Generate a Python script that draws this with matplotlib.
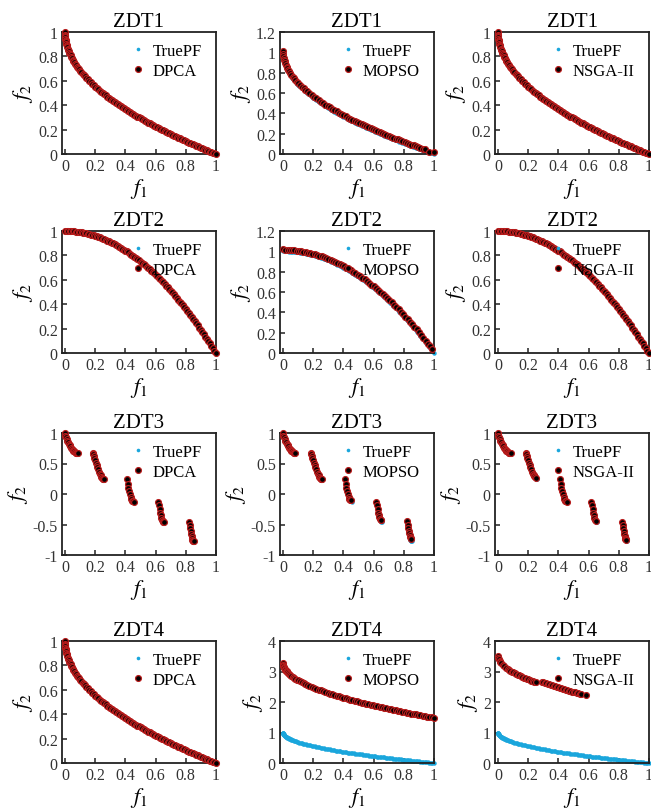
import matplotlib
matplotlib.use("Agg")
import matplotlib.pyplot as plt
from matplotlib.ticker import FuncFormatter

plt.rcParams["font.family"] = ["Liberation Serif", "DejaVu Serif"]
plt.rcParams["mathtext.fontset"] = "stix"
plt.rcParams["axes.unicode_minus"] = False

# ---- true Pareto fronts ----
ZDT1_F1 = [0, 0.0005, 0.001, 0.002, 0.003, 0.004, 0.005, 0.007, 0.009, 0.011, 0.013, 0.016,
           0.019, 0.022, 0.025, 0.029, 0.033, 0.037, 0.041, 0.046, 0.051, 0.056, 0.062,
           0.068, 0.074, 0.08, 0.087, 0.094, 0.101, 0.108, 0.116, 0.124, 0.132, 0.14,
           0.15, 0.16, 0.17, 0.18, 0.19, 0.2, 0.21, 0.22, 0.23, 0.24, 0.25, 0.26, 0.27,
           0.28, 0.29, 0.3, 0.31, 0.32, 0.33, 0.34, 0.35, 0.36, 0.37, 0.38, 0.39, 0.4,
           0.41, 0.42, 0.43, 0.44, 0.45, 0.46, 0.47, 0.48, 0.49, 0.5, 0.51, 0.52, 0.53,
           0.54, 0.55, 0.56, 0.57, 0.58, 0.59, 0.6, 0.61, 0.62, 0.63, 0.64, 0.65, 0.66,
           0.67, 0.68, 0.69, 0.7, 0.71, 0.72, 0.73, 0.74, 0.75, 0.76, 0.77, 0.78, 0.79,
           0.8, 0.81, 0.82, 0.83, 0.84, 0.85, 0.86, 0.87, 0.88, 0.89, 0.9, 0.91, 0.92,
           0.93, 0.94, 0.95, 0.96, 0.97, 0.98, 0.99, 1.0]
ZDT1_F2 = [1.0, 0.978, 0.968, 0.955, 0.945, 0.937, 0.929, 0.916, 0.905, 0.895, 0.886, 0.874,
           0.862, 0.852, 0.842, 0.83, 0.818, 0.808, 0.798, 0.786, 0.774, 0.763, 0.751,
           0.739, 0.728, 0.717, 0.705, 0.693, 0.682, 0.671, 0.659, 0.648, 0.637, 0.626,
           0.613, 0.6, 0.588, 0.576, 0.564, 0.553, 0.542, 0.531, 0.52, 0.51, 0.5, 0.49,
           0.48, 0.471, 0.461, 0.452, 0.443, 0.434, 0.426, 0.417, 0.408, 0.4, 0.392,
           0.384, 0.376, 0.368, 0.36, 0.352, 0.344, 0.337, 0.329, 0.322, 0.314, 0.307,
           0.3, 0.293, 0.286, 0.279, 0.272, 0.265, 0.258, 0.252, 0.245, 0.238, 0.232,
           0.225, 0.219, 0.213, 0.206, 0.2, 0.194, 0.188, 0.181, 0.175, 0.169, 0.163,
           0.157, 0.151, 0.146, 0.14, 0.134, 0.128, 0.122, 0.117, 0.111, 0.106, 0.1,
           0.094, 0.089, 0.083, 0.078, 0.073, 0.067, 0.062, 0.057, 0.051, 0.046, 0.041,
           0.036, 0.03, 0.025, 0.02, 0.015, 0.01, 0.005, 0.0]

ZDT2_F1 = [0, 0.01, 0.02, 0.03, 0.04, 0.05, 0.06, 0.07, 0.08, 0.09, 0.1, 0.11, 0.12, 0.13,
           0.14, 0.15, 0.16, 0.17, 0.18, 0.19, 0.2, 0.21, 0.22, 0.23, 0.24, 0.25, 0.26,
           0.27, 0.28, 0.29, 0.3, 0.31, 0.32, 0.33, 0.34, 0.35, 0.36, 0.37, 0.38, 0.39,
           0.4, 0.41, 0.42, 0.43, 0.44, 0.45, 0.46, 0.47, 0.48, 0.49, 0.5, 0.51, 0.52,
           0.53, 0.54, 0.55, 0.56, 0.57, 0.58, 0.59, 0.6, 0.61, 0.62, 0.63, 0.64, 0.65,
           0.66, 0.67, 0.68, 0.69, 0.7, 0.71, 0.72, 0.73, 0.74, 0.75, 0.76, 0.77, 0.78,
           0.79, 0.8, 0.81, 0.82, 0.83, 0.84, 0.85, 0.86, 0.87, 0.88, 0.89, 0.9, 0.91,
           0.92, 0.93, 0.94, 0.95, 0.96, 0.97, 0.98, 0.99, 1.0]
ZDT2_F2 = [1.0, 1.0, 1.0, 0.999, 0.998, 0.998, 0.996, 0.995, 0.994, 0.992, 0.99, 0.988,
           0.986, 0.983, 0.98, 0.978, 0.974, 0.971, 0.968, 0.964, 0.96, 0.956, 0.952,
           0.947, 0.942, 0.938, 0.932, 0.927, 0.922, 0.916, 0.91, 0.904, 0.898, 0.891,
           0.884, 0.878, 0.87, 0.863, 0.856, 0.848, 0.84, 0.832, 0.824, 0.815, 0.806,
           0.798, 0.788, 0.779, 0.77, 0.76, 0.75, 0.74, 0.73, 0.719, 0.708, 0.698, 0.686,
           0.675, 0.664, 0.652, 0.64, 0.628, 0.616, 0.603, 0.59, 0.578, 0.564, 0.551,
           0.538, 0.524, 0.51, 0.496, 0.482, 0.467, 0.452, 0.438, 0.422, 0.407, 0.392,
           0.376, 0.36, 0.344, 0.328, 0.311, 0.294, 0.278, 0.26, 0.243, 0.226, 0.208,
           0.19, 0.172, 0.154, 0.135, 0.116, 0.098, 0.078, 0.059, 0.04, 0.02, 0.0]

ZDT3_F1 = [0, 0.002, 0.005, 0.01, 0.015, 0.02, 0.025, 0.03, 0.035, 0.04, 0.045, 0.05,
           0.055, 0.06, 0.065, 0.07, 0.075, 0.079, 0.083,
           0.1822, 0.186, 0.19, 0.195, 0.2, 0.205, 0.21, 0.215, 0.22, 0.225, 0.23, 0.235,
           0.24, 0.245, 0.25, 0.254, 0.2578,
           0.4093, 0.415, 0.42, 0.425, 0.43, 0.435, 0.44, 0.445, 0.45, 0.4539,
           0.6184, 0.622, 0.626, 0.63, 0.634, 0.638, 0.642, 0.646, 0.65, 0.6525,
           0.8233, 0.826, 0.829, 0.832, 0.835, 0.838, 0.841, 0.844, 0.847, 0.85, 0.8518]
ZDT3_F2 = [1.0, 0.955, 0.928, 0.897, 0.871, 0.847, 0.824, 0.803, 0.782, 0.762, 0.743, 0.726,
           0.711, 0.698, 0.687, 0.679, 0.673, 0.67, 0.67,
           0.67, 0.648, 0.623, 0.589, 0.553, 0.515, 0.477, 0.439, 0.402, 0.367, 0.334,
           0.306, 0.282, 0.263, 0.25, 0.244, 0.242,
           0.242, 0.167, 0.105, 0.048, -0.004, -0.047, -0.082, -0.107, -0.121, -0.124,
           -0.124, -0.185, -0.247, -0.304, -0.351, -0.392, -0.423, -0.445, -0.456, -0.458,
           -0.457, -0.511, -0.565, -0.614, -0.658, -0.695, -0.725, -0.748, -0.764, -0.772,
           -0.773]

# ---- MOPSO results ----
MOPSO_ZDT1_F1 = [0, 0.001, 0.003, 0.005, 0.008, 0.011, 0.015, 0.019, 0.024, 0.029, 0.035,
                 0.041, 0.048, 0.056, 0.064, 0.073, 0.082, 0.092, 0.102, 0.113, 0.124,
                 0.136, 0.148, 0.16, 0.175, 0.19, 0.205, 0.22, 0.235, 0.25, 0.265, 0.28,
                 0.295, 0.31, 0.325, 0.34, 0.355, 0.37, 0.385, 0.4, 0.415, 0.43, 0.445,
                 0.46, 0.475, 0.49, 0.505, 0.52, 0.535, 0.55, 0.565, 0.58, 0.595, 0.61,
                 0.625, 0.64, 0.655, 0.67, 0.685, 0.7, 0.715, 0.73, 0.745, 0.76, 0.775,
                 0.79, 0.805, 0.82, 0.835, 0.85, 0.865, 0.88, 0.895, 0.91, 0.925, 0.94,
                 0.97, 1.0]
MOPSO_ZDT1_F2 = [1.015, 0.983, 0.96, 0.944, 0.926, 0.91, 0.893, 0.877, 0.86, 0.845, 0.828,
                 0.813, 0.796, 0.778, 0.762, 0.745, 0.729, 0.712, 0.696, 0.679, 0.663,
                 0.646, 0.63, 0.615, 0.597, 0.579, 0.562, 0.546, 0.53, 0.515, 0.5, 0.486,
                 0.472, 0.458, 0.445, 0.432, 0.419, 0.407, 0.395, 0.383, 0.371, 0.359,
                 0.348, 0.337, 0.326, 0.315, 0.304, 0.294, 0.284, 0.273, 0.263, 0.253,
                 0.244, 0.234, 0.224, 0.215, 0.206, 0.196, 0.187, 0.178, 0.169, 0.161,
                 0.152, 0.143, 0.135, 0.126, 0.118, 0.109, 0.101, 0.093, 0.085, 0.077,
                 0.069, 0.061, 0.053, 0.045, 0.02, 0.015]

MOPSO_ZDT2_F1 = [0, 0.015, 0.03, 0.045, 0.06, 0.075, 0.09, 0.105, 0.12, 0.135, 0.15, 0.165,
                 0.18, 0.195, 0.21, 0.225, 0.24, 0.255, 0.27, 0.285, 0.3, 0.315, 0.33,
                 0.345, 0.36, 0.375, 0.39, 0.405, 0.42, 0.435, 0.45, 0.465, 0.48, 0.495,
                 0.51, 0.525, 0.54, 0.555, 0.57, 0.585, 0.6, 0.615, 0.63, 0.645, 0.66,
                 0.675, 0.69, 0.705, 0.72, 0.735, 0.75, 0.765, 0.78, 0.795, 0.81, 0.825,
                 0.84, 0.855, 0.87, 0.885, 0.9, 0.915, 0.93, 0.945, 0.96, 0.975, 0.99]
MOPSO_ZDT2_F2 = [1.02, 1.015, 1.014, 1.013, 1.011, 1.009, 1.007, 1.004, 1.001, 0.997, 0.993,
                 0.988, 0.983, 0.977, 0.971, 0.964, 0.957, 0.95, 0.942, 0.934, 0.925, 0.916,
                 0.906, 0.896, 0.885, 0.874, 0.863, 0.851, 0.839, 0.826, 0.813, 0.799,
                 0.785, 0.77, 0.755, 0.739, 0.723, 0.707, 0.69, 0.673, 0.655, 0.637, 0.618,
                 0.599, 0.579, 0.559, 0.539, 0.518, 0.497, 0.475, 0.453, 0.43, 0.407, 0.383,
                 0.359, 0.334, 0.309, 0.284, 0.258, 0.232, 0.205, 0.178, 0.15, 0.122, 0.093,
                 0.064, 0.035]

MOPSO_ZDT3_F1 = [0, 0.002, 0.005, 0.01, 0.015, 0.02, 0.025, 0.03, 0.035, 0.04, 0.045, 0.05,
                 0.055, 0.06, 0.065, 0.07, 0.075, 0.08,
                 0.1822, 0.186, 0.19, 0.195, 0.2, 0.205, 0.21, 0.215, 0.22, 0.225, 0.23,
                 0.235, 0.24, 0.245, 0.25, 0.254, 0.2578,
                 0.4093, 0.415, 0.42, 0.425, 0.43, 0.435, 0.44, 0.445, 0.45,
                 0.6184, 0.622, 0.626, 0.63, 0.634, 0.638, 0.642, 0.646, 0.65,
                 0.8233, 0.826, 0.829, 0.832, 0.835, 0.838, 0.841, 0.846, 0.85]
MOPSO_ZDT3_F2 = [1.0, 0.955, 0.928, 0.897, 0.871, 0.847, 0.824, 0.803, 0.782, 0.762, 0.743,
                 0.726, 0.711, 0.698, 0.687, 0.679, 0.673, 0.672,
                 0.67, 0.648, 0.623, 0.589, 0.553, 0.515, 0.477, 0.439, 0.402, 0.367, 0.334,
                 0.306, 0.282, 0.263, 0.25, 0.244, 0.242,
                 0.242, 0.167, 0.105, 0.048, -0.004, -0.047, -0.075, -0.095, -0.1,
                 -0.124, -0.185, -0.247, -0.304, -0.351, -0.385, -0.41, -0.42, -0.425,
                 -0.44, -0.5, -0.55, -0.6, -0.64, -0.67, -0.7, -0.72, -0.73]

MOPSO_ZDT4_F1 = [0, 0.001, 0.003, 0.005, 0.008, 0.011, 0.015, 0.019, 0.024, 0.029, 0.035,
                 0.041, 0.048, 0.056, 0.064, 0.073, 0.082, 0.092, 0.102, 0.113, 0.124,
                 0.136, 0.148, 0.16, 0.175, 0.19, 0.205, 0.22, 0.235, 0.25, 0.265, 0.28,
                 0.295, 0.31, 0.325, 0.34, 0.355, 0.37, 0.385, 0.4, 0.415, 0.43, 0.445,
                 0.46, 0.475, 0.49, 0.505, 0.52, 0.535, 0.55, 0.565, 0.58, 0.595, 0.61,
                 0.625, 0.64, 0.655, 0.67, 0.685, 0.7, 0.715, 0.73, 0.745, 0.76, 0.775,
                 0.79, 0.805, 0.82, 0.835, 0.85, 0.865, 0.88, 0.895, 0.91, 0.925, 0.94,
                 0.955, 0.97, 0.985, 1.0]
MOPSO_ZDT4_F2 = [3.28, 3.222, 3.181, 3.152, 3.12, 3.091, 3.06, 3.032, 3.001, 2.974, 2.943,
                 2.916, 2.886, 2.853, 2.825, 2.794, 2.765, 2.735, 2.706, 2.675, 2.646,
                 2.616, 2.587, 2.56, 2.528, 2.495, 2.465, 2.436, 2.407, 2.38, 2.353, 2.328,
                 2.303, 2.277, 2.254, 2.231, 2.207, 2.186, 2.164, 2.142, 2.121, 2.099,
                 2.079, 2.06, 2.04, 2.02, 2.0, 1.982, 1.964, 1.944, 1.926, 1.908, 1.892,
                 1.874, 1.856, 1.84, 1.824, 1.806, 1.79, 1.773, 1.757, 1.743, 1.727, 1.71,
                 1.696, 1.68, 1.665, 1.649, 1.635, 1.62, 1.606, 1.592, 1.577, 1.563, 1.548,
                 1.534, 1.521, 1.507, 1.494, 1.48]

# ---- NSGA-II results ----
NSGA_ZDT3_F1 = [0, 0.002, 0.005, 0.01, 0.015, 0.02, 0.025, 0.03, 0.035, 0.04, 0.045, 0.05,
                0.055, 0.06, 0.065, 0.07, 0.075, 0.079, 0.083,
                0.1822, 0.186, 0.19, 0.195, 0.2, 0.205, 0.21, 0.215, 0.22, 0.225, 0.23,
                0.235, 0.24, 0.245, 0.25,
                0.4093, 0.415, 0.42, 0.425, 0.43, 0.435, 0.44, 0.445, 0.45, 0.4539,
                0.6184, 0.622, 0.626, 0.63, 0.634, 0.638, 0.642, 0.646,
                0.8233, 0.826, 0.829, 0.832, 0.835, 0.838, 0.841, 0.844, 0.847, 0.85]
NSGA_ZDT3_F2 = [1.0, 0.955, 0.928, 0.897, 0.871, 0.847, 0.824, 0.803, 0.782, 0.762, 0.743,
                0.726, 0.711, 0.698, 0.687, 0.679, 0.673, 0.67, 0.67,
                0.67, 0.648, 0.623, 0.589, 0.553, 0.515, 0.477, 0.439, 0.402, 0.367, 0.334,
                0.306, 0.29, 0.28, 0.27,
                0.242, 0.167, 0.105, 0.048, -0.004, -0.047, -0.082, -0.107, -0.121, -0.124,
                -0.124, -0.185, -0.247, -0.304, -0.351, -0.392, -0.423, -0.435,
                -0.457, -0.511, -0.565, -0.614, -0.658, -0.695, -0.72, -0.735, -0.745, -0.75]

NSGA_ZDT4_F1 = [0, 0.002, 0.005, 0.01, 0.015, 0.02, 0.03, 0.04, 0.05, 0.065, 0.07, 0.08,
                0.09, 0.1, 0.11, 0.12, 0.13, 0.14, 0.15, 0.16, 0.17, 0.18, 0.19, 0.2, 0.21,
                0.22, 0.23, 0.24, 0.25,
                0.29, 0.3, 0.31, 0.32, 0.33, 0.34, 0.35, 0.36, 0.37, 0.38, 0.39, 0.4, 0.41,
                0.42, 0.43, 0.44, 0.45, 0.46, 0.47, 0.48, 0.49, 0.5, 0.51, 0.52, 0.53, 0.54,
                0.55, 0.58]
NSGA_ZDT4_F2 = [3.52, 3.44, 3.4, 3.35, 3.31, 3.27, 3.22, 3.17, 3.13, 3.08, 3.06, 3.03,
                3.0, 2.97, 2.94, 2.92, 2.89, 2.87, 2.85, 2.82, 2.8, 2.78, 2.76, 2.74, 2.72,
                2.7, 2.69, 2.67, 2.65,
                2.67, 2.65, 2.63, 2.62, 2.6, 2.58, 2.56, 2.55, 2.53, 2.51, 2.5, 2.48, 2.46,
                2.45, 2.43, 2.42, 2.4, 2.39, 2.37, 2.36, 2.34, 2.33, 2.32, 2.3, 2.29, 2.27,
                2.26, 2.22]

ALGORITHMS = ["DPCA", "MOPSO", "NSGA-II"]
PROBLEMS = ["ZDT1", "ZDT2", "ZDT3", "ZDT4"]

# ZDT4 shares its true front with ZDT1
TRUE_PF = {
    "ZDT1": (ZDT1_F1, ZDT1_F2),
    "ZDT2": (ZDT2_F1, ZDT2_F2),
    "ZDT3": (ZDT3_F1, ZDT3_F2),
    "ZDT4": (ZDT1_F1, ZDT1_F2),
}

RESULTS = {
    ("ZDT1", "DPCA"): (ZDT1_F1, ZDT1_F2),
    ("ZDT1", "MOPSO"): (MOPSO_ZDT1_F1, MOPSO_ZDT1_F2),
    ("ZDT1", "NSGA-II"): (ZDT1_F1, ZDT1_F2),
    ("ZDT2", "DPCA"): (ZDT2_F1, ZDT2_F2),
    ("ZDT2", "MOPSO"): (MOPSO_ZDT2_F1, MOPSO_ZDT2_F2),
    ("ZDT2", "NSGA-II"): (ZDT2_F1, ZDT2_F2),
    ("ZDT3", "DPCA"): (ZDT3_F1, ZDT3_F2),
    ("ZDT3", "MOPSO"): (MOPSO_ZDT3_F1, MOPSO_ZDT3_F2),
    ("ZDT3", "NSGA-II"): (NSGA_ZDT3_F1, NSGA_ZDT3_F2),
    ("ZDT4", "DPCA"): (ZDT1_F1, ZDT1_F2),
    ("ZDT4", "MOPSO"): (MOPSO_ZDT4_F1, MOPSO_ZDT4_F2),
    ("ZDT4", "NSGA-II"): (NSGA_ZDT4_F1, NSGA_ZDT4_F2),
}

# (ymin, ymax, tick step) per panel
Y_AXES = {
    ("ZDT1", "DPCA"): (0, 1, 0.2), ("ZDT1", "MOPSO"): (0, 1.2, 0.2), ("ZDT1", "NSGA-II"): (0, 1, 0.2),
    ("ZDT2", "DPCA"): (0, 1, 0.2), ("ZDT2", "MOPSO"): (0, 1.2, 0.2), ("ZDT2", "NSGA-II"): (0, 1, 0.2),
    ("ZDT3", "DPCA"): (-1, 1, 0.5), ("ZDT3", "MOPSO"): (-1, 1, 0.5), ("ZDT3", "NSGA-II"): (-1, 1, 0.5),
    ("ZDT4", "DPCA"): (0, 1, 0.2), ("ZDT4", "MOPSO"): (0, 4, 1), ("ZDT4", "NSGA-II"): (0, 4, 1),
}

CYAN = "#1aa6dc"
RED = "#b81c1c"

fig = plt.figure(figsize=(6.51, 8.12), dpi=100)
W, H = 651.0, 812.0
col_left = [62, 280, 495]
row_top = [33, 232, 434, 642]
ax_w, ax_h = 154, 122


def fmt(v, pos):
    return "%g" % round(v, 3)


for r, prob in enumerate(PROBLEMS):
    for c, alg in enumerate(ALGORITHMS):
        ax = fig.add_axes([col_left[c] / W, 1 - (row_top[r] + ax_h) / H, ax_w / W, ax_h / H])
        tx, ty = TRUE_PF[prob]
        ax.plot(tx, ty, "o", color=CYAN, markersize=3.2, markeredgewidth=0,
                label="TruePF", clip_on=False, zorder=2)
        px, py = RESULTS[(prob, alg)]
        ax.plot(px, py, "o", markerfacecolor="black", markeredgecolor=RED,
                markersize=4.2, markeredgewidth=0.9, label=alg, clip_on=False, zorder=3)

        y0, y1, step = Y_AXES[(prob, alg)]
        ax.set_xlim(-0.02, 1)
        ax.set_ylim(y0, y1)
        ax.set_xticks([0, 0.2, 0.4, 0.6, 0.8, 1.0])
        n = int(round((y1 - y0) / step))
        ax.set_yticks([y0 + i * step for i in range(n + 1)])
        ax.xaxis.set_major_formatter(FuncFormatter(fmt))
        ax.yaxis.set_major_formatter(FuncFormatter(fmt))
        ax.tick_params(direction="in", length=3.6, width=1.1, labelsize=11.5, pad=3,
                       colors="#222222", labelcolor="#333333")
        for sp in ax.spines.values():
            sp.set_linewidth(1.3)
            sp.set_color("#222222")

        ax.set_title(prob, fontsize=15, pad=4)
        ax.set_xlabel(r"$f_1$", fontsize=16, labelpad=1)
        ax.set_ylabel(r"$f_2$", fontsize=16, labelpad=2)
        leg = ax.legend(loc="upper right", bbox_to_anchor=(0.93, 0.935), frameon=False,
                        fontsize=12, handletextpad=0.3, labelspacing=0.2, borderpad=0.2,
                        borderaxespad=0, handlelength=1.2)
        # keep the legend's TruePF dot small
        leg.legend_handles[0].set_markersize(2.6)

fig.savefig("out.png", dpi=100)
